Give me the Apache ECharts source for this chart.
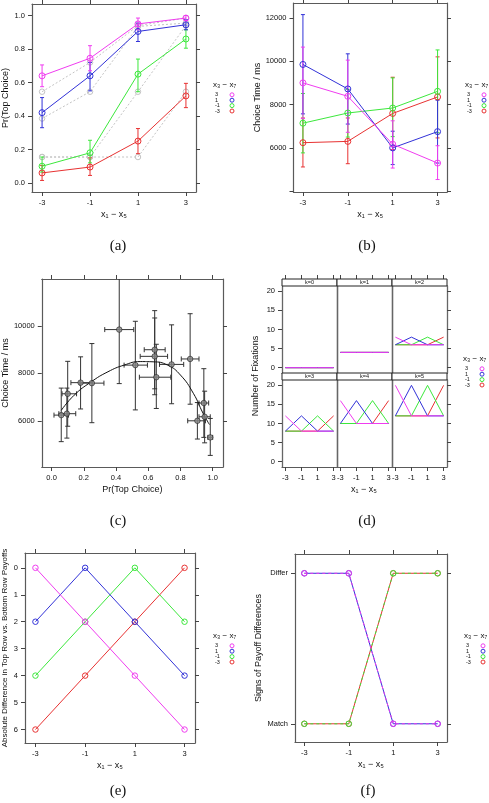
<!DOCTYPE html>
<html><head><meta charset="utf-8">
<script src="https://cdn.jsdelivr.net/npm/echarts@6/dist/echarts.min.js"></script>
<style>html,body{margin:0;padding:0;background:#fff}#c{width:489px;height:803px}</style>
</head><body><div id="c"></div><script>
// ---------------- DATA ----------------
const xVals = [-3, -1, 1, 3];                 // x1 - x5
const groupNames = ['3', '1', '-1', '-3'];    // x3 - x7
const groupColors = ['#f03cf0', '#3232d8', '#3ce83c', '#e83232'];

// (a) Pr(Top Choice) with error bars
const prTop_3  = [0.64, 0.745, 0.95, 0.985];
const prTop_1  = [0.42, 0.64, 0.905, 0.945];
const prTop_m1 = [0.10, 0.18, 0.65, 0.86];
const prTop_m3 = [0.06, 0.095, 0.25, 0.52];
const prLo_3  = [0.575, 0.67, 0.915, 0.97];
const prLo_1  = [0.33, 0.55, 0.845, 0.915];
const prLo_m1 = [0.065, 0.12, 0.545, 0.805];
const prLo_m3 = [0.015, 0.045, 0.175, 0.45];
const prHi_3  = [0.705, 0.82, 0.985, 1.0];
const prHi_1  = [0.51, 0.72, 0.955, 0.975];
const prHi_m1 = [0.155, 0.255, 0.74, 0.915];
const prHi_m3 = [0.105, 0.15, 0.325, 0.595];
// (a) grey dashed predictions
const pred_3  = [0.545, 0.72, 0.94, 0.985];
const pred_1  = [0.385, 0.545, 0.935, 0.955];
const pred_m1 = [0.155, 0.155, 0.545, 0.94];
const pred_m3 = [0.155, 0.155, 0.155, 0.545];

// (b) Choice time (ms) with error bars
const ct_3  = [9000, 8380, 6170, 5300];
const ct_1  = [9850, 8720, 6000, 6750];
const ct_m1 = [7140, 7610, 7840, 8610];
const ct_m3 = [6240, 6300, 7590, 8350];
const ctLo_3  = [7350, 6720, 5070, 4540];
const ctLo_1  = [7570, 7100, 5230, 5300];
const ctLo_m1 = [5770, 6500, 6520, 6700];
const ctLo_m3 = [5120, 5270, 5920, 6460];
const ctHi_3  = [10650, 10050, 7250, 6100];
const ctHi_1  = [12150, 10340, 6770, 8200];
const ctHi_m1 = [8510, 8700, 9230, 10520];
const ctHi_m3 = [7380, 7380, 9260, 10200];

// (c) fitted curve
const fitX = [0.06, 0.14, 0.245, 0.35, 0.45, 0.55, 0.63, 0.72, 0.80, 0.88, 0.94, 0.98];
const fitY = [6440, 7080, 7640, 8070, 8350, 8500, 8490, 8350, 7930, 7160, 6320, 5840];

// (d) number of fixations per k (rows: groups 3,1,-1,-3)
const kLabels = ['k=0', 'k=1', 'k=2', 'k=3', 'k=4', 'k=5'];
const fixK0 = [[0,0,0,0],[0,0,0,0],[0,0,0,0],[0,0,0,0]];
const fixK1 = [[4,4,4,4],[4,4,4,4],[4,4,4,4],[4,4,4,4]];
const fixK2 = [[8,6,6,6],[6,8,6,6],[6,6,8,6],[6,6,6,8]];
const fixK3 = [[12,8,8,8],[8,12,8,8],[8,8,12,8],[8,8,8,12]];
const fixK4 = [[16,10,10,10],[10,16,10,10],[10,10,16,10],[10,10,10,16]];
const fixK5 = [[20,12,12,12],[12,20,12,12],[12,12,20,12],[12,12,12,20]];

// (e) absolute difference
const absDiff_3  = [0, 2, 4, 6];
const absDiff_1  = [2, 0, 2, 4];
const absDiff_m1 = [4, 2, 0, 2];
const absDiff_m3 = [6, 4, 2, 0];

// (f) signs of payoff differences
const signCats = ['Match', 'Differ'];
const sign_3  = ['Differ', 'Differ', 'Match', 'Match'];
const sign_1  = ['Differ', 'Differ', 'Match', 'Match'];
const sign_m1 = ['Match', 'Match', 'Differ', 'Differ'];
const sign_m3 = ['Match', 'Match', 'Differ', 'Differ'];

const panelLabels = ['(a)', '(b)', '(c)', '(d)', '(e)', '(f)'];

// ---------------- BUILD ----------------
const prTop = [prTop_3, prTop_1, prTop_m1, prTop_m3];
const prLo = [prLo_3, prLo_1, prLo_m1, prLo_m3];
const prHi = [prHi_3, prHi_1, prHi_m1, prHi_m3];
const preds = [pred_3, pred_1, pred_m1, pred_m3];
const ct = [ct_3, ct_1, ct_m1, ct_m3];
const ctLo = [ctLo_3, ctLo_1, ctLo_m1, ctLo_m3];
const ctHi = [ctHi_3, ctHi_1, ctHi_m1, ctHi_m3];
const fix = [fixK0, fixK1, fixK2, fixK3, fixK4, fixK5];
const absDiff = [absDiff_3, absDiff_1, absDiff_m1, absDiff_m3];
const signs = [sign_3, sign_1, sign_m1, sign_m3];

const SANS = 'Liberation Sans, Arial, sans-serif';
const BOX = '#5a5a5a', TICK = '#444';
const XLAB = 'x\u2081 \u2212 x\u2085';
const grids = [], xAxes = [], yAxes = [], series = [], graphics = [];

function mkAxis(gi, pos, c, main) {
  const showLine = main ? c.lineMain !== false : c.lineMirror !== false;
  const showTicks = main ? c.ticksMain !== false : c.ticksMirror !== false;
  const ax = {
    type: 'value', gridIndex: gi, position: pos, min: c.min, max: c.max,
    inverse: !!c.inverse, offset: main ? 0 : (c.mirrorOffset || 0),
    axisLine: { show: showLine, onZero: false, lineStyle: { color: c.lineColor || BOX, width: c.lineWidth || 1.2 } },
    axisTick: { show: showTicks, inside: false, length: 4, customValues: c.ticks, lineStyle: { color: TICK, width: 1 } },
    axisLabel: { show: main && c.labels !== false, customValues: c.labelValues || c.ticks, formatter: c.fmt,
      fontFamily: SANS, fontSize: 7.5, color: '#111', margin: 7 },
    splitLine: { show: false }, splitArea: { show: false }
  };
  if (main && c.name) {
    ax.name = c.name; ax.nameLocation = 'middle'; ax.nameGap = c.nameGap;
    ax.nameTextStyle = { fontFamily: SANS, fontSize: c.nameSize || 9, color: '#111' };
  }
  return ax;
}
function addPanel(rect, xc, yc) {
  const gi = grids.length;
  grids.push({ left: rect[0], top: rect[1], width: rect[2], height: rect[3] });
  const xi = xAxes.length, yi = yAxes.length;
  xAxes.push(mkAxis(gi, 'bottom', xc, true), mkAxis(gi, 'top', xc, false));
  yAxes.push(mkAxis(gi, 'left', yc, true), mkAxis(gi, 'right', yc, false));
  return { xi, yi };
}
const intFmt = v => String(Math.round(v));
const xCfg = (extra) => Object.assign({ min: -3.42, max: 3.42, ticks: xVals, fmt: intFmt }, extra || {});

function errBarSeries(ax, data, color, z) {
  return {
    type: 'custom', xAxisIndex: ax.xi, yAxisIndex: ax.yi, clip: true, z: z, silent: true,
    data: data, encode: { x: 0, y: [1, 2] },
    renderItem: (p, api) => {
      const x = api.value(0);
      const a = api.coord([x, api.value(1)]), b = api.coord([x, api.value(2)]);
      const st = { stroke: color, lineWidth: 1 };
      return { type: 'group', children: [
        { type: 'line', shape: { x1: a[0], y1: a[1], x2: b[0], y2: b[1] }, style: st },
        { type: 'line', shape: { x1: a[0] - 2, y1: a[1], x2: a[0] + 2, y2: a[1] }, style: st },
        { type: 'line', shape: { x1: b[0] - 2, y1: b[1], x2: b[0] + 2, y2: b[1] }, style: st }
      ] };
    }
  };
}
function lineSeries(ax, name, pts, color, opts) {
  opts = opts || {};
  return {
    type: 'line', name: name, xAxisIndex: ax.xi, yAxisIndex: ax.yi, data: pts,
    symbol: opts.noSymbol ? 'none' : 'circle', symbolSize: opts.size || 5, showSymbol: !opts.noSymbol,
    lineStyle: { color: color, width: 1, type: opts.dash || 'solid' },
    itemStyle: { color: 'rgba(255,255,255,0)', borderColor: color, borderWidth: 1 }, z: opts.z || 3, silent: true
  };
}
function legend(x, y) {
  graphics.push({ type: 'text', x: x, y: y, style: { text: 'x\u2083 \u2212 x\u2087', font: '8px ' + SANS, fill: '#111',
    textAlign: 'left', textVerticalAlign: 'middle', align: 'left', verticalAlign: 'middle' } });
  groupNames.forEach((n, i) => {
    const yy = y + 9.8 + i * 5.4;
    graphics.push({ type: 'text', x: x + 2, y: yy, style: { text: n, font: '5.5px ' + SANS, fill: '#111',
      textAlign: 'left', textVerticalAlign: 'middle', align: 'left', verticalAlign: 'middle' } });
    graphics.push({ type: 'circle', shape: { cx: x + 19, cy: yy, r: 2 }, style: { fill: 'none', stroke: groupColors[i], lineWidth: 1 } });
  });
}
function gtext(txt, x, y, font, rot) {
  graphics.push({ type: 'text', x: x, y: y, rotation: rot || 0, style: { text: txt, font: font, fill: '#111',
    textAlign: 'center', textVerticalAlign: 'middle', align: 'center', verticalAlign: 'middle' } });
}
const order = [3, 2, 1, 0]; // draw red, green, blue, magenta (magenta on top)

// ---- (a)
const axA = addPanel([31, 4, 165, 188], xCfg({ name: XLAB, nameGap: 18 }),
  { min: -0.054, max: 1.069, ticks: [0, 0.2, 0.4, 0.6, 0.8, 1.0], fmt: v => v.toFixed(1), name: 'Pr(Top Choice)', nameGap: 22 });
order.forEach(g => {
  series.push(lineSeries(axA, 'pred' + groupNames[g], xVals.map((x, i) => [x, preds[g][i]]), '#c4c4c4', { dash: [2, 2], z: 2, size: 5.5 }));
});
order.forEach(g => {
  series.push(errBarSeries(axA, xVals.map((x, i) => [x, prLo[g][i], prHi[g][i]]), groupColors[g], 3));
  series.push(lineSeries(axA, groupNames[g], xVals.map((x, i) => [x, prTop[g][i]]), groupColors[g], { size: 6, z: 4 }));
});
legend(213, 85);

// ---- (b)
const axB = addPanel([293.5, 3, 153.5, 189], xCfg({ name: XLAB, nameGap: 18 }),
  { min: 3965, max: 12685, ticks: [4000, 6000, 8000, 10000, 12000], labelValues: [6000, 8000, 10000, 12000], fmt: intFmt,
    name: 'Choice Time / ms', nameGap: 31 });
order.forEach(g => {
  series.push(errBarSeries(axB, xVals.map((x, i) => [x, ctLo[g][i], ctHi[g][i]]), groupColors[g], 3));
  series.push(lineSeries(axB, groupNames[g], xVals.map((x, i) => [x, ct[g][i]]), groupColors[g], { size: 6, z: 4 }));
});
legend(465, 85);

// ---- (c)
const axC = addPanel([40, 279, 183, 188],
  { min: -0.061, max: 1.064, ticks: [0, 0.2, 0.4, 0.6, 0.8, 1.0], fmt: v => v.toFixed(1), name: 'Pr(Top Choice)', nameGap: 18 },
  { min: 4050, max: 11985, ticks: [6000, 8000, 10000], fmt: intFmt, name: 'Choice Time / ms', nameGap: 30 });
const cRows = [];
for (let g = 0; g < 4; g++) for (let i = 0; i < 4; i++)
  cRows.push([prTop[g][i], ct[g][i], prLo[g][i], prHi[g][i], ctLo[g][i], ctHi[g][i]]);
series.push({
  type: 'custom', xAxisIndex: axC.xi, yAxisIndex: axC.yi, clip: true, z: 3, silent: true, data: cRows,
  encode: { x: [0, 2, 3], y: [1, 4, 5] },
  renderItem: (p, api) => {
    const x = api.value(0), y = api.value(1);
    const a = api.coord([x, api.value(4)]), b = api.coord([x, api.value(5)]);
    const l = api.coord([api.value(2), y]), r = api.coord([api.value(3), y]);
    const st = { stroke: '#333', lineWidth: 1 };
    return { type: 'group', children: [
      { type: 'line', shape: { x1: a[0], y1: a[1], x2: b[0], y2: b[1] }, style: st },
      { type: 'line', shape: { x1: a[0] - 2.5, y1: a[1], x2: a[0] + 2.5, y2: a[1] }, style: st },
      { type: 'line', shape: { x1: b[0] - 2.5, y1: b[1], x2: b[0] + 2.5, y2: b[1] }, style: st },
      { type: 'line', shape: { x1: l[0], y1: l[1], x2: r[0], y2: r[1] }, style: st },
      { type: 'line', shape: { x1: l[0], y1: l[1] - 2.5, x2: l[0], y2: l[1] + 2.5 }, style: st },
      { type: 'line', shape: { x1: r[0], y1: r[1] - 2.5, x2: r[0], y2: r[1] + 2.5 }, style: st }
    ] };
  }
});
series.push({ type: 'line', xAxisIndex: axC.xi, yAxisIndex: axC.yi, data: fitX.map((x, i) => [x, fitY[i]]),
  smooth: true, showSymbol: false, symbol: 'none', lineStyle: { color: '#111', width: 1 }, z: 4, silent: true });
series.push({ type: 'scatter', xAxisIndex: axC.xi, yAxisIndex: axC.yi, data: cRows.map(r => [r[0], r[1]]),
  symbol: 'circle', symbolSize: 5.5, itemStyle: { color: '#8a8a8a', borderColor: '#222', borderWidth: 0.8 }, z: 5, silent: true });

// ---- (d) facets
const colLeft = [282, 337, 392], colW = 55, rowTop = [286, 380], rowH = 87, stripH = 7;
for (let k = 0; k < 6; k++) {
  const row = k < 3 ? 0 : 1, col = k % 3;
  const ax = addPanel([colLeft[col], rowTop[row], colW, rowH],
    xCfg({ labels: row === 1, ticksMain: row === 1, ticksMirror: row === 0, lineMirror: false, mirrorOffset: stripH }),
    { min: -1.4, max: 21.4, ticks: [0, 5, 10, 15, 20], fmt: intFmt, labels: col === 0, ticksMain: col === 0,
      ticksMirror: col === 2, lineColor: '#666', lineWidth: 1.3 });
  order.forEach(g => {
    series.push(lineSeries(ax, groupNames[g], xVals.map((x, i) => [x, fix[k][g][i]]), groupColors[g], { noSymbol: true, z: 3 }));
  });
  graphics.push({ type: 'rect', shape: { x: colLeft[col], y: rowTop[row] - stripH, width: colW, height: stripH },
    style: { fill: '#fff', stroke: '#222', lineWidth: 1 }, z: 50 });
  graphics.push({ type: 'text', x: colLeft[col] + colW / 2, y: rowTop[row] - stripH / 2, z: 51,
    style: { text: kLabels[k], font: '5.5px ' + SANS, fill: '#111', textAlign: 'center', textVerticalAlign: 'middle', align: 'center', verticalAlign: 'middle' } });
}
gtext('Number of Fixations', 256, 376, '9px ' + SANS, Math.PI / 2);
gtext(XLAB, 364, 490, '9px ' + SANS);
legend(463, 359);

// ---- (e)
const axE = addPanel([25, 553, 170, 190], xCfg({ name: XLAB, nameGap: 18 }),
  { min: -0.55, max: 6.5, inverse: true, ticks: [0, 1, 2, 3, 4, 5, 6], fmt: intFmt,
    name: 'Absolute Difference in Top Row vs. Bottom Row Payoffs', nameGap: 16, nameSize: 8 });
order.forEach(g => {
  series.push(lineSeries(axE, groupNames[g], xVals.map((x, i) => [x, absDiff[g][i]]), groupColors[g], { size: 5.5 }));
});
legend(213, 636);

// ---- (f)
const axF = addPanel([295, 554, 152, 188], xCfg({ name: XLAB, nameGap: 18 }),
  { min: -0.121, max: 1.128, ticks: [0, 1], fmt: v => signCats[Math.round(v)], name: 'Signs of Payoff Differences', nameGap: 32 });
[1, 3, 0, 2].forEach(g => {
  const top = (g === 0 || g === 2);
  series.push(lineSeries(axF, groupNames[g], xVals.map((x, i) => [x, signCats.indexOf(signs[g][i])]), groupColors[g],
    { size: 5.5, dash: top ? [3, 3] : 'solid', z: top ? 4 : 3 }));
});
legend(464, 636);

// panel labels
const labelPos = [[118, 246], [367, 246], [118, 521], [367, 521], [118, 791], [368, 791]];
panelLabels.forEach((t, i) => gtext(t, labelPos[i][0], labelPos[i][1], '15px Liberation Serif, serif'));

const chart = echarts.init(document.getElementById('c'), null, { renderer: 'canvas' });
chart.setOption({ animation: false, backgroundColor: '#fff', grid: grids, xAxis: xAxes, yAxis: yAxes, series: series, graphic: graphics });
</script></body></html>
